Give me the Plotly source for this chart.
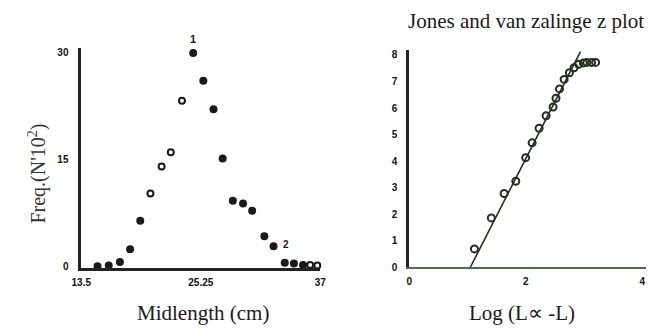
import plotly.graph_objects as go

# ---- Left panel: length-frequency ----
midlength = [15.1, 16.2, 17.3, 18.3, 19.3, 20.3, 21.4, 22.3, 23.4, 24.5, 25.5, 26.5,
             27.4, 28.4, 29.4, 30.3, 31.5, 32.4, 33.5, 34.4, 35.3, 36.0, 36.7]
freq = [0.0, 0.1, 0.6, 2.4, 6.4, 10.2, 14.0, 16.0, 23.2, 29.9, 26.0, 22.0,
        15.1, 9.2, 8.8, 7.8, 4.2, 2.8, 0.5, 0.4, 0.2, 0.2, 0.1]
is_open = [False, False, False, False, False, True, True, True, True, False, False, False,
           False, False, False, False, False, False, False, False, False, True, True]
left_xticks = [13.5, 25.25, 37]
left_xticklabels = ["13.5", "25.25", "37"]
left_yticks = [0, 15, 30]

# ---- Right panel: Jones and van Zalinge plot ----
log_x = [1.12, 1.41, 1.63, 1.83, 2.00, 2.11, 2.23, 2.35, 2.47, 2.52, 2.58, 2.66,
         2.75, 2.83, 2.91, 2.99, 3.05, 3.13, 3.20]
z_y = [0.69, 1.86, 2.78, 3.24, 4.13, 4.69, 5.24, 5.71, 6.04, 6.37, 6.72, 7.08,
       7.33, 7.52, 7.65, 7.70, 7.72, 7.72, 7.72]
fit_slope = 4.3
fit_x0 = 1.05   # x where the fitted line crosses zero
fit_x1 = 2.94
right_xticks = [0, 2, 4]
right_yticks = [0, 1, 2, 3, 4, 5, 6, 7, 8]

W, H = 665, 331
ink = "#1a1a1a"
green_ink = "#24301f"
axis_ink = "#222222"

fig = go.Figure()

fx = [x for x, o in zip(midlength, is_open) if not o]
fy = [y for y, o in zip(freq, is_open) if not o]
ox = [x for x, o in zip(midlength, is_open) if o]
oy = [y for y, o in zip(freq, is_open) if o]

fig.add_trace(go.Scatter(x=fx, y=fy, mode="markers", xaxis="x", yaxis="y",
                         marker=dict(symbol="circle", size=8, color=ink),
                         showlegend=False, cliponaxis=False))
fig.add_trace(go.Scatter(x=ox, y=oy, mode="markers", xaxis="x", yaxis="y",
                         marker=dict(symbol="circle-open", size=6, color=ink,
                                     line=dict(width=2, color=ink)),
                         showlegend=False, cliponaxis=False))

fit_xs = [fit_x0, fit_x1]
fit_ys = [fit_slope * (v - fit_x0) for v in fit_xs]
fig.add_trace(go.Scatter(x=fit_xs, y=fit_ys, mode="lines", xaxis="x2", yaxis="y2",
                         line=dict(color=green_ink, width=1.6),
                         showlegend=False, cliponaxis=False))
fig.add_trace(go.Scatter(x=log_x, y=z_y, mode="markers", xaxis="x2", yaxis="y2",
                         marker=dict(symbol="circle-open", size=7, color=green_ink,
                                     line=dict(width=2, color=green_ink)),
                         showlegend=False, cliponaxis=False))

tickfont = dict(family="Liberation Sans", size=10, color="#111", weight="bold")

fig.update_layout(
    width=W, height=H, margin=dict(l=0, r=0, t=0, b=0),
    paper_bgcolor="white", plot_bgcolor="white",
    xaxis=dict(domain=[73 / W, 318 / W], range=[13.5, 37], tickvals=left_xticks,
               ticktext=left_xticklabels, showgrid=False, zeroline=False,
               showline=True, linecolor=axis_ink, linewidth=2.5, ticks="",
               tickfont=tickfont, ticklabelstandoff=4, anchor="y"),
    yaxis=dict(domain=[(H - 272.5) / H, (H - 48) / H], range=[-0.2, 30.6],
               tickvals=left_yticks, showgrid=False, zeroline=False,
               showline=True, linecolor=axis_ink, linewidth=2.5, ticks="",
               tickfont=tickfont, ticklabelstandoff=8, anchor="x"),
    xaxis2=dict(domain=[409 / W, 652 / W], range=[0, 4.07], tickvals=right_xticks,
                showgrid=False, zeroline=False, showline=True,
                linecolor="#3f7a3a", linewidth=2.2, ticks="",
                tickfont=tickfont, ticklabelstandoff=4, anchor="y2"),
    yaxis2=dict(domain=[(H - 272) / H, (H - 50) / H], range=[0, 8.19],
                tickvals=right_yticks, showgrid=False, zeroline=False,
                showline=True, linecolor=axis_ink, linewidth=2.5, ticks="",
                tickfont=tickfont, ticklabelstandoff=7, anchor="x2"),
)

serif = "Liberation Serif"
ann = [
    dict(text="Midlength (cm)", x=198 / W, y=(H - 319) / H, xref="paper", yref="paper",
         showarrow=False, font=dict(family=serif, size=21, color=ink),
         xanchor="center", yanchor="middle"),
    dict(text="Log (L\u221d -L)", x=525 / W, y=(H - 319) / H, xref="paper", yref="paper",
         showarrow=False, font=dict(family=serif, size=21, color=ink),
         xanchor="center", yanchor="middle"),
    dict(text="Jones and van zalinge z plot", x=529 / W, y=(H - 20) / H, xref="paper",
         yref="paper", showarrow=False, font=dict(family=serif, size=21, color=ink),
         xanchor="center", yanchor="middle"),
    dict(text="Freq.(N'10<sup>2</sup>)", x=28 / W, y=(H - 176) / H, xref="paper",
         yref="paper", showarrow=False, textangle=-90,
         font=dict(family=serif, size=20, color="#333"),
         xanchor="center", yanchor="middle"),
    dict(text="1", x=midlength[9], y=freq[9], xref="x", yref="y", yshift=14,
         showarrow=False, font=dict(family="Liberation Sans", size=11, color=ink, weight="bold")),
    dict(text="2", x=midlength[17], y=freq[17], xref="x", yref="y", xshift=12, yshift=2,
         showarrow=False, font=dict(family="Liberation Sans", size=10, color=ink, weight="bold")),
]
fig.update_layout(annotations=ann)

fig.write_html("out.html")
